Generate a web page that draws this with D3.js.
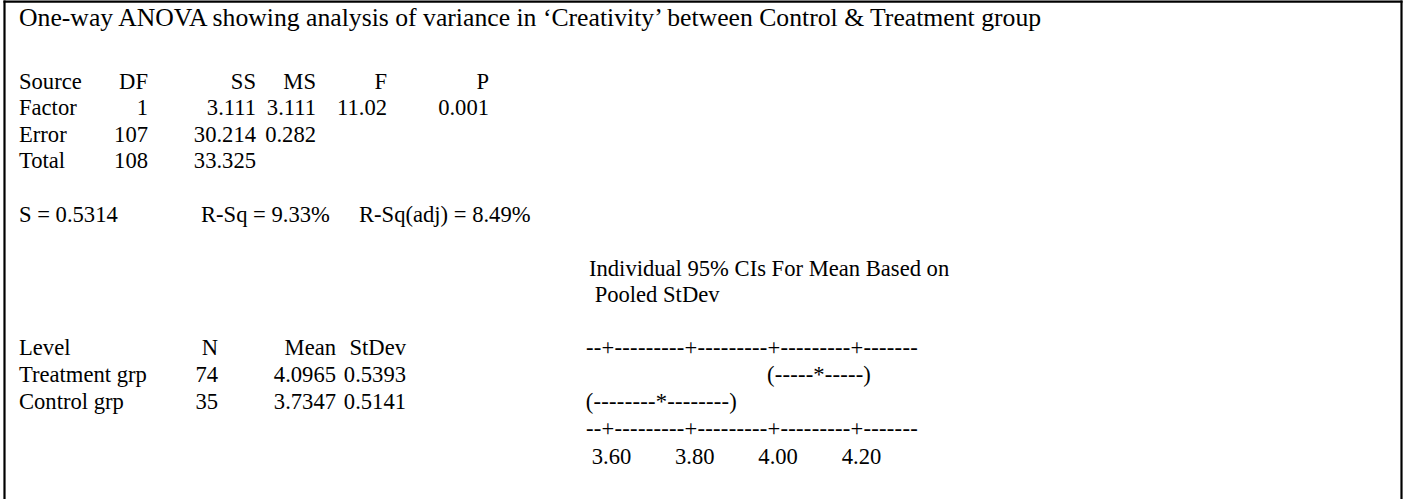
<!DOCTYPE html>
<html>
<head>
<meta charset="utf-8">
<script src="https://cdn.jsdelivr.net/npm/d3@7"></script>
<style>
  html, body { margin: 0; padding: 0; background: #fff; }
  svg text { font-family: "Liberation Serif", "Times New Roman", serif; fill: #000; }
</style>
</head>
<body>
<svg id="chart" width="1403" height="499"></svg>
<script>
// ---------------- data ----------------
const title = "One-way ANOVA showing analysis of variance in \u2018Creativity\u2019 between Control & Treatment group";

const anovaHeader = ["Source", "DF", "SS", "MS", "F", "P"];
const anovaSources = ["Factor", "Error", "Total"];
const anovaDF = ["1", "107", "108"];
const anovaSS = ["3.111", "30.214", "33.325"];
const anovaMS = ["3.111", "0.282", ""];
const anovaF = ["11.02", "", ""];
const anovaP = ["0.001", "", ""];

const fitStats = ["S = 0.5314", "R-Sq = 9.33%", "R-Sq(adj) = 8.49%"];

const ciTitle = ["Individual 95% CIs For Mean Based on", " Pooled StDev"];

const levelHeader = ["Level", "N", "Mean", "StDev"];
const levels = ["Treatment grp", "Control grp"];
const levelN = ["74", "35"];
const levelMean = ["4.0965", "3.7347"];
const levelStDev = ["0.5393", "0.5141"];

// confidence intervals as drawn in the text plot
const ciLow = [3.985, 3.550];
const ciHigh = [4.234, 3.912];
const ciGlyphs = ["(-----*-----)", "(--------*--------)"];

const axisTicks = [3.6, 3.8, 4.0, 4.2];
const axisTickLabels = ["3.60", "3.80", "4.00", "4.20"];
const axisLine = "--+---------+---------+---------+-------";

// ---------------- layout ----------------
const svg = d3.select("#chart");
const FS = 22.6, TFS = 25.7;
const lineH = 26.6;

// border (top, left, right; open at the bottom)
const border = svg.append("g").attr("stroke", "#000").attr("stroke-width", 2.2);
border.append("line").attr("x1", 3.5).attr("x2", 1402.5).attr("y1", 1.6).attr("y2", 1.6);
border.append("line").attr("x1", 4.5).attr("x2", 4.5).attr("y1", 0.5).attr("y2", 499);
border.append("line").attr("x1", 1401.5).attr("x2", 1401.5).attr("y1", 0.5).attr("y2", 499);

function txt(x, y, s, anchor, size) {
  return svg.append("text")
    .attr("x", x).attr("y", y)
    .attr("text-anchor", anchor || "start")
    .attr("font-size", size || FS)
    .attr("xml:space", "preserve")
    .text(s);
}

const LX = 19;
txt(LX, 26, title, "start", TFS);

// ANOVA table (first column left-aligned, the others right-aligned)
const anovaCols = [LX, 148, 256, 316, 387, 489];
const rowY = d3.scaleLinear().domain([0, 1]).range([88.5, 88.5 + lineH]);
anovaHeader.forEach((h, i) => txt(anovaCols[i], rowY(0), h, i === 0 ? "start" : "end"));
const anovaRows = [anovaSources, anovaDF, anovaSS, anovaMS, anovaF, anovaP];
anovaSources.forEach((s, r) => {
  anovaRows.forEach((col, c) => {
    if (col[r] !== "") txt(anovaCols[c], rowY(r + 1), col[r], c === 0 ? "start" : "end");
  });
});

// fit statistics
const fitX = [LX, 201, 359];
fitStats.forEach((s, i) => txt(fitX[i], rowY(5), s));

// CI heading
const ciX0 = 589;
txt(ciX0, 275.5, ciTitle[0]);
txt(ciX0, 302, ciTitle[1]);

// level table (first column left-aligned, the others right-aligned)
const levCols = [LX, 218, 336, 406];
const lvY = d3.scaleLinear().domain([0, 1]).range([355, 382]);
const levRows = [levels, levelN, levelMean, levelStDev];
levelHeader.forEach((h, i) => txt(levCols[i], lvY(0), h, i === 0 ? "start" : "end"));
levels.forEach((l, r) => {
  levRows.forEach((col, c) => txt(levCols[c], lvY(r + 1), col[r], c === 0 ? "start" : "end"));
});

// CI text plot positioned with a linear scale
const x = d3.scaleLinear().domain([3.6, 4.2]).range([606.7, 856.7]);
const axisStart = x(3.6) - 20.7;
const axisEnd = x(4.2) + 61;
[lvY(0), lvY(3)].forEach(y => {
  svg.append("text")
    .attr("x", axisStart).attr("y", y)
    .attr("font-size", FS)
    .attr("textLength", axisEnd - axisStart)
    .attr("lengthAdjust", "spacing")
    .text(axisLine);
});
levels.forEach((l, r) => {
  const lo = x(ciLow[r]), hi = x(ciHigh[r]);
  svg.append("text")
    .attr("x", lo).attr("y", lvY(r + 1))
    .attr("font-size", FS)
    .attr("textLength", hi - lo)
    .attr("lengthAdjust", "spacing")
    .text(ciGlyphs[r]);
});
axisTicks.forEach((t, i) => {
  txt(x(t) - 15, 464, axisTickLabels[i], "start");
});
</script>
</body>
</html>
